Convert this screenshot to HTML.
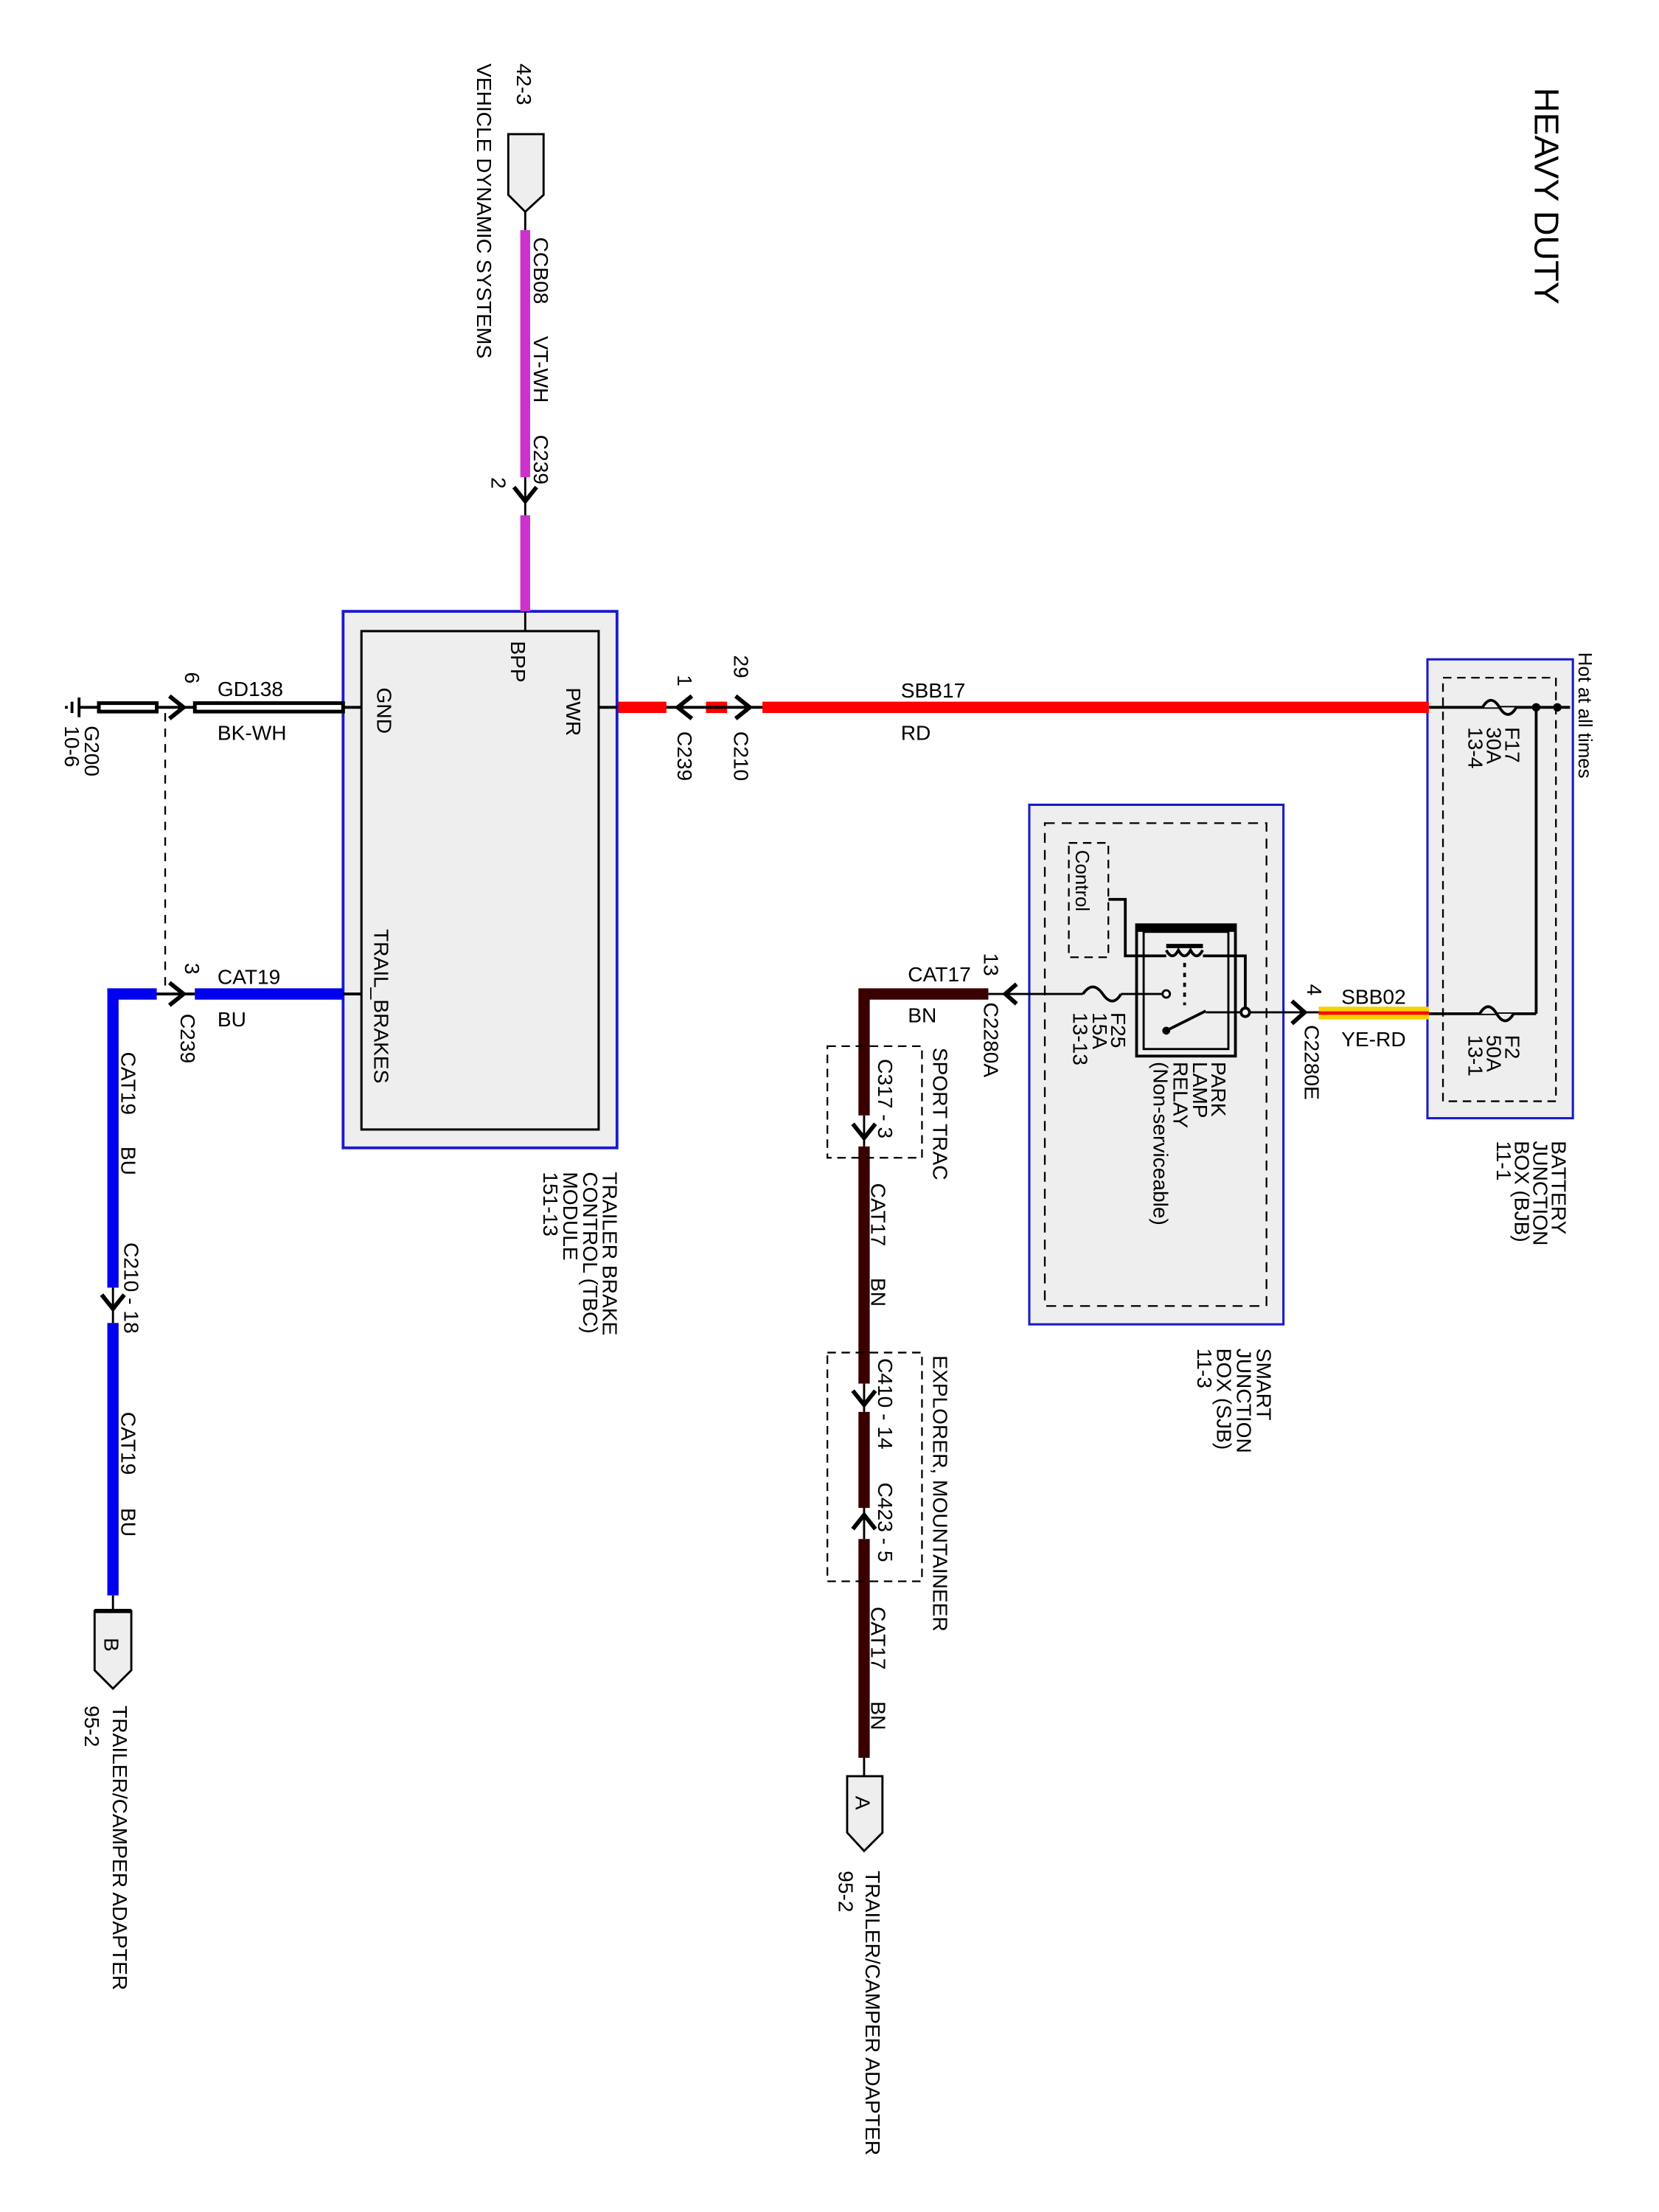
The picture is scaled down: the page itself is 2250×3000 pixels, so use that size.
<!DOCTYPE html>
<html><head><meta charset="utf-8"><style>
html,body{margin:0;padding:0;background:#fff;}
svg{display:block;}
text{font-family:"Liberation Sans",sans-serif;font-size:14.7px;fill:#000;}
</style></head><body>
<svg width="2250" height="3000" viewBox="0 0 1175 1566.7" preserveAspectRatio="none" xmlns="http://www.w3.org/2000/svg">
<rect x="0" y="0" width="1175" height="1567" fill="#fff"/>

<!-- Title -->
<text transform="translate(1087,62) rotate(90)" style="font-size:24.4px">HEAVY DUTY</text>
<text transform="translate(1118,462) rotate(90)" style="font-size:13.5px">Hot at all times</text>

<!-- BJB -->
<rect x="1011" y="467" width="103" height="325" fill="#eee" stroke="#1a1acc" stroke-width="1.6"/>
<rect x="1022" y="480" width="80" height="300" fill="none" stroke="#000" stroke-width="1.2" stroke-dasharray="6,4"/>
<line x1="1012" y1="501" x2="1112" y2="501" stroke="#000" stroke-width="2"/>
<line x1="1088" y1="501" x2="1088" y2="718" stroke="#000" stroke-width="2"/>
<circle cx="1103" cy="501" r="3" fill="#000"/>
<circle cx="1088" cy="501" r="3" fill="#000"/>
<path d="M1050,501 q6,-10 12,0 q6,10 12,0" fill="#eee" stroke="#000" stroke-width="2"/>
<line x1="1012" y1="718" x2="1088" y2="718" stroke="#000" stroke-width="2"/>
<path d="M1048,718 q6,-10 12,0 q6,10 12,0" fill="#eee" stroke="#000" stroke-width="2"/>
<text transform="translate(1066,515) rotate(90)">F17</text>
<text transform="translate(1053,515) rotate(90)">30A</text>
<text transform="translate(1040,515) rotate(90)">13-4</text>
<text transform="translate(1066,733) rotate(90)">F2</text>
<text transform="translate(1053,733) rotate(90)">50A</text>
<text transform="translate(1040,733) rotate(90)">13-1</text>
<text transform="translate(1099,808) rotate(90)">BATTERY</text>
<text transform="translate(1086,808) rotate(90)">JUNCTION</text>
<text transform="translate(1073,808) rotate(90)">BOX (BJB)</text>
<text transform="translate(1060,808) rotate(90)">11-1</text>

<!-- Red SBB17 -->
<line x1="540" y1="501" x2="1012" y2="501" stroke="#f00" stroke-width="8"/>
<line x1="500" y1="501" x2="515" y2="501" stroke="#f00" stroke-width="8"/>
<line x1="437" y1="501" x2="472" y2="501" stroke="#f00" stroke-width="8"/>
<line x1="472" y1="501" x2="540" y2="501" stroke="#000" stroke-width="2"/>
<path d="M521,493 L531,501 L521,509" fill="none" stroke="#000" stroke-width="3"/>
<path d="M490,493 L480,501 L490,509" fill="none" stroke="#000" stroke-width="3"/>
<text x="638" y="494">SBB17</text>
<text x="638" y="524">RD</text>
<text transform="translate(520,464) rotate(90)">29</text>
<text transform="translate(520,518) rotate(90)">C210</text>
<text transform="translate(480,478) rotate(90)">1</text>
<text transform="translate(480,518) rotate(90)">C239</text>

<!-- TBC -->
<rect x="243" y="433" width="194" height="380" fill="#eee" stroke="#1a1acc" stroke-width="2"/>
<rect x="256" y="447" width="168" height="353" fill="#eee" stroke="#000" stroke-width="1.6"/>
<line x1="424" y1="501" x2="437" y2="501" stroke="#000" stroke-width="2"/>
<line x1="243" y1="501" x2="256" y2="501" stroke="#000" stroke-width="2"/>
<line x1="243" y1="704" x2="256" y2="704" stroke="#000" stroke-width="2"/>
<line x1="372" y1="433" x2="372" y2="447" stroke="#000" stroke-width="1.5"/>
<text transform="translate(401,487) rotate(90)">PWR</text>
<text transform="translate(362,454) rotate(90)">BPP</text>
<text transform="translate(267,487) rotate(90)">GND</text>
<text transform="translate(265,658) rotate(90)">TRAIL_BRAKES</text>
<text transform="translate(427,830) rotate(90)">TRAILER BRAKE</text>
<text transform="translate(413,830) rotate(90)">CONTROL (TBC)</text>
<text transform="translate(399,830) rotate(90)">MODULE</text>
<text transform="translate(385,830) rotate(90)">151-13</text>

<!-- Magenta -->
<path d="M360,95 L385,95 L385,138 L372,150 L360,138 Z" fill="#eee" stroke="#000" stroke-width="1.5"/>
<line x1="372" y1="150" x2="372" y2="163" stroke="#000" stroke-width="1.5"/>
<line x1="372" y1="163" x2="372" y2="338" stroke="#cc33cc" stroke-width="7"/>
<line x1="372" y1="365" x2="372" y2="433" stroke="#cc33cc" stroke-width="7"/>
<line x1="372" y1="338" x2="372" y2="365" stroke="#000" stroke-width="1.5"/>
<path d="M364,345 L372,355 L380,345" fill="none" stroke="#000" stroke-width="3"/>
<text transform="translate(366,45) rotate(90)">42-3</text>
<text transform="translate(338,45) rotate(90)">VEHICLE DYNAMIC SYSTEMS</text>
<text transform="translate(378,168) rotate(90)">CCB08</text>
<text transform="translate(378,238) rotate(90)">VT-WH</text>
<text transform="translate(378,308) rotate(90)">C239</text>
<text transform="translate(348,338) rotate(90)">2</text>

<!-- Ground GD138 -->
<line x1="56" y1="494" x2="56" y2="508" stroke="#000" stroke-width="2"/>
<line x1="51" y1="497" x2="51" y2="505" stroke="#000" stroke-width="2"/>
<line x1="47" y1="500" x2="47" y2="502" stroke="#000" stroke-width="2"/>
<line x1="56" y1="501" x2="70" y2="501" stroke="#000" stroke-width="2"/>
<rect x="70" y="498" width="41" height="6" fill="#fff" stroke="#000" stroke-width="2.6"/>
<rect x="138" y="498" width="105" height="6" fill="#fff" stroke="#000" stroke-width="2.6"/>
<line x1="111" y1="501" x2="138" y2="501" stroke="#000" stroke-width="2"/>
<path d="M120,493 L130,501 L120,509" fill="none" stroke="#000" stroke-width="3"/>
<line x1="117" y1="505" x2="117" y2="700" stroke="#000" stroke-width="1.2" stroke-dasharray="6,5"/>
<text x="154" y="493">GD138</text>
<text x="154" y="524">BK-WH</text>
<text transform="translate(131,476) rotate(90)">6</text>
<text transform="translate(60,514) rotate(90)">G200</text>
<text transform="translate(46,514) rotate(90)">10-6</text>

<!-- Blue CAT19 -->
<line x1="138" y1="704" x2="243" y2="704" stroke="#0000ee" stroke-width="8"/>
<path d="M111,704 L80,704 L80,912" fill="none" stroke="#0000ee" stroke-width="8"/>
<line x1="111" y1="704" x2="138" y2="704" stroke="#000" stroke-width="2"/>
<path d="M120,696 L130,704 L120,712" fill="none" stroke="#000" stroke-width="3"/>
<line x1="80" y1="912" x2="80" y2="937" stroke="#000" stroke-width="1.5"/>
<path d="M72,917 L80,927 L88,917" fill="none" stroke="#000" stroke-width="3"/>
<line x1="80" y1="937" x2="80" y2="1130" stroke="#0000ee" stroke-width="8"/>
<line x1="80" y1="1130" x2="80" y2="1141" stroke="#000" stroke-width="1.5"/>
<path d="M67,1141 L93,1141 L93,1183 L80,1196 L67,1183 Z" fill="#eee" stroke="#000" stroke-width="1.5"/>
<line x1="67" y1="1141" x2="93" y2="1141" stroke="#000" stroke-width="3"/>
<text transform="translate(74,1160) rotate(90)">B</text>
<text x="154" y="697">CAT19</text>
<text x="154" y="727">BU</text>
<text transform="translate(131,682) rotate(90)">3</text>
<text transform="translate(128,718) rotate(90)">C239</text>
<text transform="translate(86,745) rotate(90)">CAT19</text>
<text transform="translate(86,812) rotate(90)">BU</text>
<text transform="translate(88,880) rotate(90)">C210 - 18</text>
<text transform="translate(86,1000) rotate(90)">CAT19</text>
<text transform="translate(86,1068) rotate(90)">BU</text>
<text transform="translate(60,1208) rotate(90)">95-2</text>
<text transform="translate(80,1208) rotate(90)">TRAILER/CAMPER ADAPTER</text>

<!-- SJB -->
<rect x="729" y="570" width="180" height="368" fill="#eee" stroke="#1a1acc" stroke-width="1.6"/>
<rect x="740" y="583" width="157" height="342" fill="none" stroke="#000" stroke-width="1.2" stroke-dasharray="7,5"/>
<rect x="757" y="597" width="28" height="81" fill="none" stroke="#000" stroke-width="1.2" stroke-dasharray="6,4"/>
<text transform="translate(762,602) rotate(90)" style="font-size:13.5px">Control</text>
<rect x="805" y="655" width="70" height="93" fill="none" stroke="#000" stroke-width="2"/>
<rect x="810" y="660" width="60" height="83" fill="none" stroke="#000" stroke-width="1.5"/>
<rect x="805" y="655" width="70" height="5" fill="#000"/>
<line x1="826" y1="670" x2="852" y2="670" stroke="#000" stroke-width="3"/>
<path d="M826,673 q4.3,8 8.6,0 q4.3,8 8.6,0 q4.3,8 8.6,0" fill="none" stroke="#000" stroke-width="2"/>
<path d="M785,637 L797,637 L797,677 L826,677 M852,677 L882,677 L882,717" fill="none" stroke="#000" stroke-width="2"/>
<line x1="839" y1="682" x2="839" y2="712" stroke="#000" stroke-width="2" stroke-dasharray="3,4"/>
<line x1="712" y1="704" x2="767" y2="704" stroke="#000" stroke-width="1.5"/>
<path d="M767,704 q7,-10 14,0 q7,10 13,0" fill="none" stroke="#000" stroke-width="2"/>
<line x1="794" y1="704" x2="823" y2="704" stroke="#000" stroke-width="1.5"/>
<circle cx="826" cy="704" r="2.6" fill="#fff" stroke="#000" stroke-width="1.5"/>
<circle cx="826" cy="730" r="2.8" fill="#000"/>
<line x1="826" y1="730" x2="854" y2="716" stroke="#000" stroke-width="2"/>
<line x1="854" y1="717" x2="934" y2="717" stroke="#000" stroke-width="1.5"/>
<circle cx="882" cy="717" r="3" fill="#fff" stroke="#000" stroke-width="2"/>
<path d="M915,709 L924,717 L915,725" fill="none" stroke="#000" stroke-width="3"/>
<path d="M720,697 L712,704 L720,711" fill="none" stroke="#000" stroke-width="3"/>
<text transform="translate(787,717) rotate(90)">F25</text>
<text transform="translate(774,717) rotate(90)">15A</text>
<text transform="translate(760,717) rotate(90)">13-13</text>
<text transform="translate(858,752) rotate(90)">PARK</text>
<text transform="translate(845,752) rotate(90)">LAMP</text>
<text transform="translate(831,752) rotate(90)">RELAY</text>
<text transform="translate(817,752) rotate(90)">(Non-serviceable)</text>
<text transform="translate(890,955) rotate(90)">SMART</text>
<text transform="translate(876,955) rotate(90)">JUNCTION</text>
<text transform="translate(862,955) rotate(90)">BOX (SJB)</text>
<text transform="translate(848,955) rotate(90)">11-3</text>

<!-- SBB02 -->
<rect x="934" y="713" width="78" height="9" fill="#f5d000"/>
<rect x="934" y="716.3" width="78" height="2.4" fill="#f00"/>
<text x="950" y="711">SBB02</text>
<text x="950" y="741">YE-RD</text>
<text transform="translate(926,697) rotate(90)">4</text>
<text transform="translate(924,726) rotate(90)">C2280E</text>

<!-- Brown CAT17 -->
<path d="M700,704 L612,704 L612,790" fill="none" stroke="#3a0000" stroke-width="8"/>
<line x1="700" y1="704" x2="712" y2="704" stroke="#000" stroke-width="1.5"/>
<line x1="612" y1="790" x2="612" y2="812" stroke="#000" stroke-width="1.5"/>
<path d="M604,796 L612,806 L620,796" fill="none" stroke="#000" stroke-width="3"/>
<line x1="612" y1="812" x2="612" y2="980" stroke="#3a0000" stroke-width="8"/>
<line x1="612" y1="980" x2="612" y2="1000" stroke="#000" stroke-width="1.5"/>
<path d="M604,985 L612,995 L620,985" fill="none" stroke="#000" stroke-width="3"/>
<line x1="612" y1="1000" x2="612" y2="1068" stroke="#3a0000" stroke-width="8"/>
<line x1="612" y1="1068" x2="612" y2="1090" stroke="#000" stroke-width="1.5"/>
<path d="M604,1083 L612,1073 L620,1083" fill="none" stroke="#000" stroke-width="3"/>
<line x1="612" y1="1090" x2="612" y2="1245" stroke="#3a0000" stroke-width="8"/>
<line x1="612" y1="1245" x2="612" y2="1258" stroke="#000" stroke-width="1.5"/>
<path d="M600,1258 L625,1258 L625,1298 L612,1311 L600,1298 Z" fill="#eee" stroke="#000" stroke-width="1.5"/>
<text transform="translate(606,1272) rotate(90)">A</text>
<rect x="586" y="741" width="67" height="79" fill="none" stroke="#000" stroke-width="1.2" stroke-dasharray="6,4"/>
<rect x="586" y="958" width="67" height="162" fill="none" stroke="#000" stroke-width="1.2" stroke-dasharray="6,4"/>
<text x="643" y="695">CAT17</text>
<text x="643" y="724">BN</text>
<text transform="translate(697,675) rotate(90)">13</text>
<text transform="translate(697,710) rotate(90)">C2280A</text>
<text transform="translate(661,742) rotate(90)">SPORT TRAC</text>
<text transform="translate(622,750) rotate(90)">C317 - 3</text>
<text transform="translate(617,838) rotate(90)">CAT17</text>
<text transform="translate(617,905) rotate(90)">BN</text>
<text transform="translate(661,960) rotate(90)">EXPLORER, MOUNTAINEER</text>
<text transform="translate(622,962) rotate(90)">C410 - 14</text>
<text transform="translate(622,1050) rotate(90)">C423 - 5</text>
<text transform="translate(617,1138) rotate(90)">CAT17</text>
<text transform="translate(617,1205) rotate(90)">BN</text>
<text transform="translate(594,1325) rotate(90)">95-2</text>
<text transform="translate(613,1325) rotate(90)">TRAILER/CAMPER ADAPTER</text>
</svg>
</body></html>
